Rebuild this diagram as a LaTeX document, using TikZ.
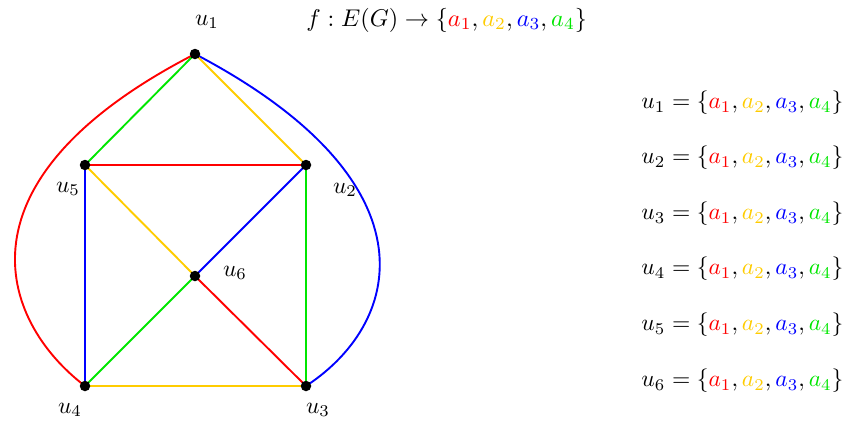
\documentclass[tikz,border=0pt]{standalone}
\usetikzlibrary{arrows.meta}
\usepackage{xcolor}
\definecolor{cR}{RGB}{255,0,0}
\definecolor{cY}{RGB}{255,204,0}
\definecolor{cB}{RGB}{0,0,255}
\definecolor{cG}{RGB}{0,230,0}
\newcommand{\aset}{\{\textcolor{cR}{a_1},\textcolor{cY}{a_2},\textcolor{cB}{a_3},\textcolor{cG}{a_4}\}}
\begin{document}
\begin{tikzpicture}[x=1pt,y=-1pt,
  edge/.style={line width=1.9pt,-{To[length=3pt,width=6pt]}},
  dot/.style={circle,fill=black,inner sep=0pt,minimum size=10.5pt},
  lbl/.style={scale=2.35,inner sep=0pt}]
\useasboundingbox (0,0) rectangle (846,426);
\coordinate (u1) at (195,54);
\coordinate (u5) at (85,165);
\coordinate (u2) at (306,165);
\coordinate (u6) at (195,276);
\coordinate (u4) at (85,386);
\coordinate (u3) at (306,386);
% edges
\draw[edge,cR] (u1) .. controls (-50,180) and (0,320) .. (u4);
\draw[edge,cB] (u1) .. controls (435,180) and (405,320) .. (u3);
\draw[edge,cG] (u1) -- (u5);
\draw[edge,cY] (u1) -- (u2);
\draw[edge,cR] (u2) -- (u5);
\draw[edge,cB] (u5) -- (u4);
\draw[edge,cG] (u2) -- (u3);
\draw[edge,cY] (u5) -- (u6);
\draw[edge,cB] (u6) -- (u2);
\draw[edge,cG] (u6) -- (u4);
\draw[edge,cR] (u6) -- (u3);
\draw[edge,cY] (u4) -- (u3);
% dots
\foreach \v in {u1,u2,u3,u4,u5,u6} \node[dot] (d\v) at (\v) {};
% labels
\node[lbl] (l1) at (207,22) {$u_1$};
\node[lbl] (l5) at (68,189) {$u_5$};
\node[lbl] (l2) at (345,190) {$u_2$};
\node[lbl] (l6) at (235,273) {$u_6$};
\node[lbl] (l4) at (70,410) {$u_4$};
\node[lbl] (l3) at (318,410) {$u_3$};
\node[lbl,scale=1.03,anchor=west] (title) at (306,20) {$f:E(G)\to\aset$};
\foreach \i/\y in {1/103,2/158,3/214,4/269,5/325,6/381}
  \node[lbl,anchor=west] (s\i) at (641,\y) {$u_{\i}=\aset$};
\end{tikzpicture}
\end{document}
